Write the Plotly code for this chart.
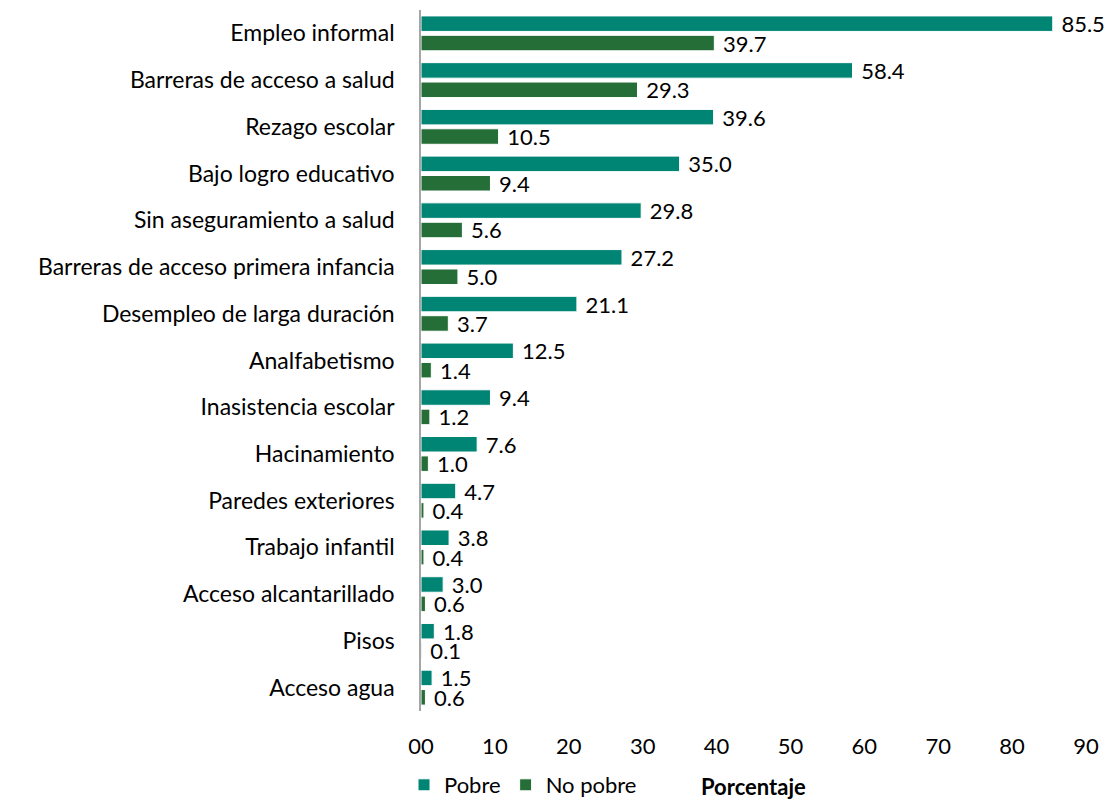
import plotly.graph_objects as go

categories = ["Empleo informal", "Barreras de acceso a salud", "Rezago escolar",
              "Bajo logro educativo", "Sin aseguramiento a salud",
              "Barreras de acceso primera infancia", "Desempleo de larga duración",
              "Analfabetismo", "Inasistencia escolar", "Hacinamiento",
              "Paredes exteriores", "Trabajo infantil", "Acceso alcantarillado",
              "Pisos", "Acceso agua"]
pobre = [85.5, 58.4, 39.6, 35.0, 29.8, 27.2, 21.1, 12.5, 9.4, 7.6, 4.7, 3.8, 3.0, 1.8, 1.5]
no_pobre = [39.7, 29.3, 10.5, 9.4, 5.6, 5.0, 3.7, 1.4, 1.2, 1.0, 0.4, 0.4, 0.6, 0.1, 0.6]
tick_vals = [0, 10, 20, 30, 40, 50, 60, 70, 80, 90]
tick_text = ["00", "10", "20", "30", "40", "50", "60", "70", "80", "90"]

FONT = "Lato"
C_POBRE = "#008474"
C_NOPOBRE = "#256E38"

fig = go.Figure()
fig.add_trace(go.Bar(
    y=categories, x=pobre, orientation="h", name="Pobre",
    marker=dict(color=C_POBRE, line=dict(color="white", width=1)),
    texttemplate=" %{x:.1f}", textposition="outside", constraintext="none",
    textfont=dict(size=22, color="black", family=FONT), cliponaxis=False))
fig.add_trace(go.Bar(
    y=categories, x=no_pobre, orientation="h", name="No pobre",
    marker=dict(color=C_NOPOBRE, line=dict(color="white", width=1)),
    texttemplate=" %{x:.1f}", textposition="outside", constraintext="none",
    textfont=dict(size=22, color="black", family=FONT), cliponaxis=False))

fig.update_layout(
    width=1113, height=806,
    margin=dict(l=421, r=27, t=10, b=95, autoexpand=False),
    paper_bgcolor="white", plot_bgcolor="white",
    barmode="group", bargap=0.17, bargroupgap=0.2,
    font=dict(family=FONT, size=22, color="black"),
    showlegend=True,
    legend=dict(orientation="h", xref="container", yref="container",
                x=0.363, xanchor="left", y=0.0, yanchor="bottom",
                font=dict(size=22, family=FONT), itemwidth=30, traceorder="normal",
                borderwidth=0),
    xaxis=dict(range=[0, 90], tickvals=tick_vals, ticktext=tick_text,
               showgrid=False, zeroline=False, showline=False,
               ticks="", ticklabelstandoff=20, tickfont=dict(size=22)),
    yaxis=dict(autorange="reversed", showgrid=False, zeroline=False,
               showline=True, linecolor="#A6A6A6", linewidth=1.5,
               ticks="", ticklabelstandoff=20, tickfont=dict(size=23)),
    annotations=[dict(text="<b>Porcentaje</b>", xref="paper", yref="paper",
                      x=0.5, y=-0.108, xanchor="center", yanchor="middle",
                      showarrow=False, font=dict(size=22, family=FONT))],
)

fig.write_html("out.html")
